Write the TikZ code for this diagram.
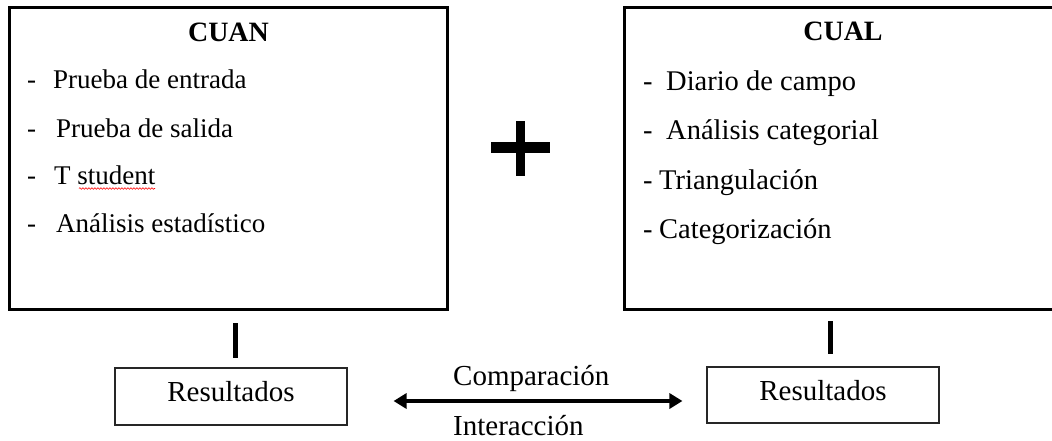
\documentclass[tikz,border=0pt]{standalone}
\usepackage{fontspec}
\setmainfont{Liberation Serif}
\usetikzlibrary{arrows.meta,decorations.pathmorphing}
\begin{document}
\begin{tikzpicture}[x=1pt,y=-1pt,
  bigbox/.style={draw, line width=3pt, minimum height=302pt, inner sep=0pt},
  resbox/.style={draw=black!85, line width=1.1pt, minimum width=232pt, inner sep=0pt,
     font=\fontsize{29}{34}\selectfont, text height=20pt, text depth=10pt},
  ltxt/.style={anchor=base west, inner sep=0pt, font=\fontsize{27}{32}\selectfont},
  rtxt/.style={anchor=base west, inner sep=0pt, font=\fontsize{28.5}{34}\selectfont},
  title/.style={anchor=base, inner sep=0pt, font=\fontsize{28}{33}\selectfont\bfseries},
  lbl/.style={anchor=base west, inner sep=0pt, font=\fontsize{29}{34}\selectfont},
  vline/.style={line width=5pt},
  biarrow/.style={line width=4.5pt, {Triangle[length=13pt,width=15pt]}-{Triangle[length=13pt,width=15pt]}},
  squiggle/.style={red, line width=0.6pt, decorate, decoration={snake, amplitude=0.8pt, segment length=3pt}}
]
\clip (0,0) rectangle (1052,440);
\useasboundingbox (0,0) rectangle (1052,440);

% big boxes
\node[bigbox, minimum width=438pt] (cuan) at (228.5,158.5) {};
\node[bigbox, minimum width=440pt] (cual) at (844.5,158.5) {};

% titles
\node[title] (cuant) at (228.5,41) {CUAN};
\node[title] (cualt) at (843,40) {CUAL};

% left items
\node[ltxt] (l1) at (27,88) {-\hspace{17pt}Prueba de entrada};
\node[ltxt] (l2) at (27,137) {-\hspace{20pt}Prueba de salida};
\node[ltxt] (l3) at (27,184) {-\hspace{18pt}T student};
\node[ltxt] (l4) at (27,232) {-\hspace{20pt}Análisis estadístico};
\coordinate (sq1) at (79,188.5);
\coordinate (sq2) at (155,188.5);
\draw[squiggle] (sq1) -- (sq2);

% right items
\node[rtxt] (r1) at (643,90) {-\hspace{13.5pt}Diario de campo};
\node[rtxt] (r2) at (643,139) {-\hspace{13.5pt}Análisis categorial};
\node[rtxt] (r3) at (643,189) {-\hspace{6.5pt}Triangulación};
\node[rtxt] (r4) at (643,238) {-\hspace{6.5pt}Categorización};

% plus sign
\fill (516,121) rectangle (525,176);
\fill (491,142) rectangle (550,153);

% result boxes
\node[resbox, minimum height=57pt] (res1) at (231,396.5) {Resultados};
\node[resbox, minimum height=56pt] (res2) at (823,395) {Resultados};

% vertical connectors
\coordinate (c1) at (235,323);
\coordinate (c2) at (830,321);
\draw[vline, shorten >=9pt] (c1) -- (c1 |- res1.north);
\draw[vline, shorten >=12pt] (c2) -- (c2 |- res2.north);

% double arrow
\coordinate (ay) at (0,401);
\draw[biarrow, shorten <=46pt, shorten >=24pt] (res1.east |- ay) -- (res2.west |- ay);

\node[lbl] (comp) at (453,385) {Comparación};
\node[lbl] (inter) at (453,435) {Interacción};
\end{tikzpicture}
\end{document}
